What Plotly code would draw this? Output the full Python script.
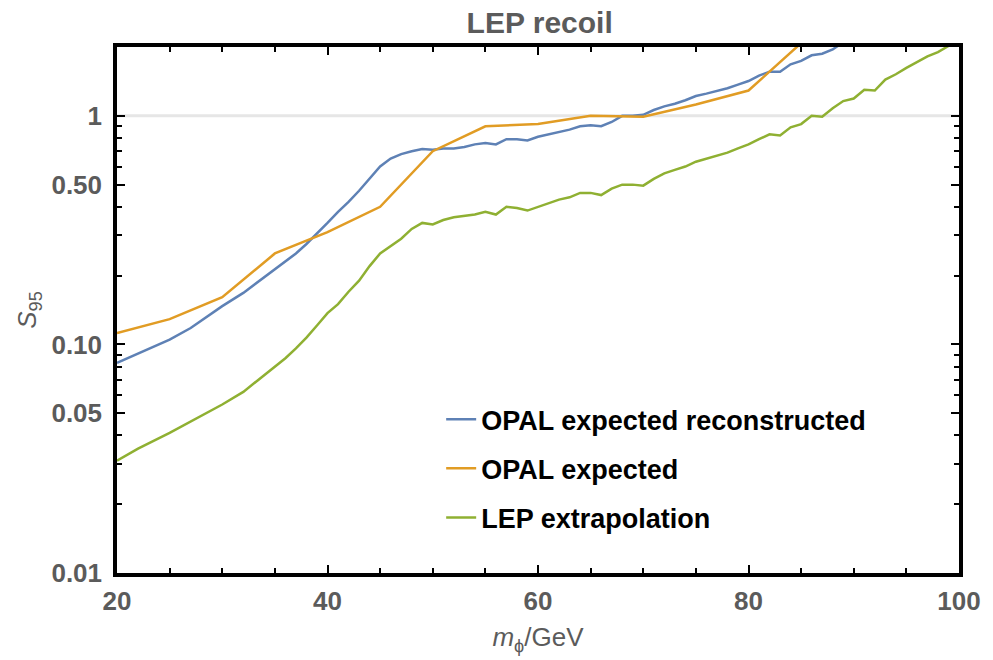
import plotly.graph_objects as go
import numpy as np

# Dark-photon mass (GeV) and 95% CL signal-strength limits
m_reco = [20, 22, 25, 27, 30, 32, 35, 37, 38, 39, 40, 41, 42, 43, 44, 45, 46, 47, 48, 49,
          50, 51, 52, 53, 54, 55, 56, 57, 58, 59, 60, 61, 62, 63, 64, 65, 66, 67, 68, 69,
          70, 71, 72, 73, 74, 75, 76, 77, 78, 79, 80, 81, 82, 83, 84, 85, 86, 87, 88, 89]
s_reco = [0.083, 0.091, 0.105, 0.118, 0.147, 0.168, 0.213, 0.25, 0.275, 0.305, 0.34, 0.38,
          0.42, 0.47, 0.53, 0.60, 0.65, 0.68, 0.70, 0.715, 0.71, 0.72, 0.72, 0.73, 0.75,
          0.76, 0.75, 0.79, 0.79, 0.78, 0.81, 0.83, 0.85, 0.87, 0.90, 0.91, 0.90, 0.94,
          1.00, 1.00, 1.01, 1.06, 1.10, 1.13, 1.17, 1.22, 1.25, 1.28, 1.32, 1.37, 1.42,
          1.50, 1.56, 1.56, 1.68, 1.74, 1.84, 1.87, 1.95, 2.1]

m_opal = [20, 25, 30, 35, 40, 45, 50, 55, 60, 65, 70, 75, 80, 85]
s_opal = [0.112, 0.129, 0.161, 0.25, 0.31, 0.40, 0.70, 0.90, 0.92, 1.0, 0.99, 1.12, 1.29, 2.08]

m_lep = [20, 22, 25, 27, 30, 32, 35, 36, 37, 38, 39, 40, 41, 42, 43, 44, 45, 46, 47, 48,
         49, 50, 51, 52, 53, 54, 55, 56, 57, 58, 59, 60, 61, 62, 63, 64, 65, 66, 67, 68,
         69, 70, 71, 72, 73, 74, 75, 76, 77, 78, 79, 80, 81, 82, 83, 84, 85, 86, 87, 88,
         89, 90, 91, 92, 93, 94, 95, 96, 97, 98, 99]
s_lep = [0.031, 0.035, 0.041, 0.046, 0.0546, 0.062, 0.080, 0.087, 0.096, 0.107, 0.121,
         0.137, 0.15, 0.17, 0.19, 0.22, 0.25, 0.27, 0.29, 0.32, 0.34, 0.335, 0.35, 0.36,
         0.365, 0.37, 0.38, 0.37, 0.40, 0.395, 0.385, 0.40, 0.415, 0.43, 0.44, 0.46, 0.46,
         0.45, 0.48, 0.50, 0.50, 0.495, 0.53, 0.56, 0.58, 0.60, 0.63, 0.65, 0.67, 0.69,
         0.72, 0.75, 0.79, 0.83, 0.82, 0.89, 0.92, 1.0, 0.99, 1.08, 1.16, 1.19, 1.30, 1.29,
         1.44, 1.52, 1.62, 1.72, 1.82, 1.90, 2.02]

series_names = ["OPAL expected reconstructed", "OPAL expected", "LEP extrapolation"]
series_colors = ["#5E81B5", "#E19C24", "#8FB032"]

x_major = [20, 40, 60, 80, 100]
x_minor = [25, 30, 35, 45, 50, 55, 65, 70, 75, 85, 90, 95]
y_major = [0.01, 0.05, 0.1, 0.5, 1]
y_major_text = ["0.01", "0.05", "0.10", "0.50", "1"]
y_minor = [0.02, 0.03, 0.04, 0.06, 0.07, 0.08, 0.09, 0.2, 0.3, 0.4, 0.6, 0.7, 0.8, 0.9, 2]

FONT = "Liberation Sans, Arial, sans-serif"
GRAY = "#5b5b5b"

fig = go.Figure()
for i, (mx, sy) in enumerate([(m_reco, s_reco), (m_opal, s_opal), (m_lep, s_lep)]):
    fig.add_trace(go.Scatter(
        x=mx, y=sy, mode="lines", name=series_names[i],
        line=dict(color=series_colors[i], width=2.5),
        legendgroup=f"g{i}",
    ))

# light reference line at S95 = 1
fig.add_shape(type="line", xref="paper", yref="y", x0=0, x1=1, y0=1, y1=1,
              line=dict(color="#e6e6e6", width=3), layer="below")

axis_common = dict(
    showline=True, linecolor="black", linewidth=3.5, mirror="allticks",
    ticks="inside", ticklen=8, tickwidth=2, tickcolor="black",
    showgrid=False, zeroline=False,
    tickfont=dict(family=FONT, size=26, color=GRAY, weight="bold"),
)

fig.update_xaxes(
    **axis_common,
    range=[20, 100],
    tickmode="array", tickvals=x_major, ticktext=[str(v) for v in x_major],
    minor=dict(tickmode="array", tickvals=x_minor, ticks="inside", ticklen=5,
               tickwidth=2, tickcolor="black", showgrid=False),
    ticklabelstandoff=2,
    title=dict(text="<i>m</i><sub>ϕ</sub>/GeV", standoff=14,
               font=dict(family=FONT, size=26, color=GRAY)),
)
fig.update_yaxes(
    **axis_common,
    type="log", range=[np.log10(0.01), np.log10(2)],
    tickmode="array", tickvals=y_major, ticktext=y_major_text,
    minor=dict(tickmode="array", tickvals=y_minor, ticks="inside", ticklen=5,
               tickwidth=2, tickcolor="black", showgrid=False),
    ticklabelstandoff=6,
    title=dict(text="<i>S</i><sub>95</sub>", standoff=8,
               font=dict(family=FONT, size=26, color=GRAY)),
)

fig.update_layout(
    width=993, height=660,
    margin=dict(l=117, r=27, t=47, b=87),
    paper_bgcolor="white", plot_bgcolor="white",
    title=dict(text="LEP recoil", x=0.5435, xanchor="center", y=0.966, yanchor="middle",
               font=dict(family=FONT, size=30, color=GRAY, weight="bold")),
    legend=dict(x=0.385, y=0.338, xanchor="left", yanchor="top",
                font=dict(family=FONT, size=27, color="black", weight="bold"),
                bgcolor="rgba(0,0,0,0)", traceorder="grouped", tracegroupgap=11),
    showlegend=True,
)

fig.write_html("out.html")
